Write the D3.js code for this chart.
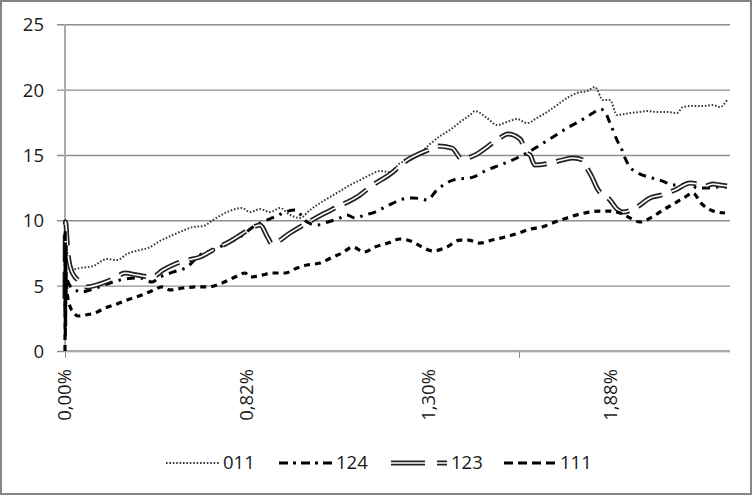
<!DOCTYPE html>
<html>
<head>
<meta charset="utf-8">
<script src="https://cdn.jsdelivr.net/npm/d3@7/dist/d3.min.js"></script>
<style>
  html, body { margin: 0; padding: 0; background: #fff; }
  svg { display: block; }
  text { font-family: "Open Sans", "Liberation Sans", sans-serif; fill: #1a1a1a; }
</style>
</head>
<body>
<svg id="chart" width="753" height="496"></svg>
<script>
// ---- data (category index along the x axis, value) ----
const categoryCount = 666;
const xTickIndex = [0, 182, 364, 546];
const xTickLabels = ["0,00%", "0,82%", "1,30%", "1,88%"];
const xMarkIndex = [0, 454];
const yTicks = [0, 5, 10, 15, 20, 25];
const seriesNames = ["011", "124", "123", "111"];

const idx011 = [0,0.5,1,2,3,5,8,15,28,42,52,62,75,83,95,108,122,128,138,148,162,177,185,195,205,215,225,235,245,255,265,275,285,295,305,315,325,335,345,355,365,375,385,395,405,410,422,432,442,452,462,472,482,492,502,512,522,530,538,545,552,565,575,582,592,602,612,618,628,638,648,655,662];
const val011 = [7.5,9.6,8.8,7.8,7.0,6.4,6.25,6.35,6.5,7.04,6.96,7.42,7.73,7.88,8.42,8.88,9.33,9.49,9.56,10.02,10.63,10.94,10.63,10.86,10.63,10.94,10.41,10.18,10.79,11.32,11.78,12.24,12.7,13.08,13.47,13.77,13.7,14.38,14.61,15.15,15.84,16.45,16.91,17.52,18.06,18.36,17.83,17.29,17.52,17.75,17.44,17.83,18.29,18.82,19.36,19.74,19.89,20.2,19.2,19.2,18.06,18.21,18.29,18.36,18.29,18.29,18.21,18.67,18.75,18.75,18.82,18.67,19.2];

const idx124 = [0,0.2,0.4,0.6,0.8,1,2,3,5,8,12,15,25,45,55,75,87,95,108,122,135,148,165,175,188,207,230,242,252,263,275,282,290,300,310,318,328,338,348,357,362,372,388,408,422,435,452,462,475,488,502,515,528,535,540,545,552,557,560,565,573,587,600,607,615,625,632,642,652,662];
const val124 = [3.0,8.8,2.5,7.5,4.0,5.2,5.6,5.3,5.0,4.7,4.6,4.5,4.67,5.2,5.43,5.59,5.28,5.66,6.04,6.43,7.35,7.73,8.34,8.72,9.49,10.18,10.79,9.87,9.64,9.87,10.18,10.41,10.18,10.41,10.63,10.94,11.32,11.63,11.71,11.63,11.55,12.32,13.08,13.31,13.85,14.23,14.77,15.15,15.76,16.37,17.06,17.6,18.21,18.52,18.29,17.44,16.14,15.38,14.77,14.08,13.62,13.24,12.93,12.7,12.7,12.85,12.47,12.47,12.55,12.55];

const idx123 = [0,0.5,1,2,3,5,10,13,17,22,35,50,60,72,87,98,110,123,135,148,162,172,185,195,203,207,212,225,235,260,270,295,305,328,338,363,373,387,397,408,432,443,455,462,465,470,485,497,508,518,522,527,532,545,552,558,572,585,597,610,625,633,640,648,655,662];
const val123 = [4.0,9.9,9.7,8.5,7.5,6.5,5.66,5.43,5.13,4.9,5.13,5.59,5.97,5.81,5.66,6.2,6.66,6.96,7.19,7.73,8.26,8.72,9.33,9.64,8.65,8.19,8.34,9.03,9.49,10.56,10.94,11.94,12.55,13.7,14.38,15.38,15.68,15.53,14.69,14.92,16.14,16.6,16.22,15.15,15.0,14.23,14.38,14.61,14.77,14.61,14.0,13.31,12.47,11.55,10.86,10.63,11.02,11.71,11.94,12.32,12.85,12.78,12.62,12.78,12.7,12.62];

const idx111 = [0,0.15,0.3,0.45,0.6,0.75,1,2,3,5,8,13,20,30,40,52,65,77,89,97,105,118,130,143,157,170,180,185,197,207,220,232,242,255,266,277,288,299,310,323,335,348,357,368,382,395,403,415,427,440,454,465,477,490,502,515,525,535,545,555,565,575,587,598,610,620,628,636,648,660];
const val111 = [0,9.2,1.0,8.0,2.0,6.5,5.6,4.6,4.0,3.4,3.0,2.68,2.75,2.91,3.29,3.6,3.98,4.28,4.67,4.9,4.67,4.82,4.9,4.9,5.2,5.66,5.97,5.66,5.81,5.97,5.97,6.35,6.58,6.73,7.12,7.5,7.96,7.57,7.96,8.26,8.57,8.34,7.96,7.65,7.96,8.49,8.49,8.26,8.49,8.72,9.03,9.33,9.49,9.87,10.18,10.48,10.63,10.71,10.71,10.56,10.18,9.87,10.25,10.79,11.32,11.78,12.09,11.32,10.71,10.56];

// ---- layout ----
const svg = d3.select("#chart");
const plotLeft = 65, plotRight = 730, plotTop = 24.3, plotBottom = 351;

svg.append("rect").attr("x", 1).attr("y", 1).attr("width", 750).attr("height", 493)
  .attr("fill", "#fff").attr("stroke", "#858585").attr("stroke-width", 2);

const x = d3.scaleLinear().domain([0, categoryCount - 1]).range([plotLeft, plotRight]);
const y = d3.scaleLinear().domain([0, 25]).range([plotBottom, plotTop]);

// gridlines + y labels
const yAxis = d3.axisLeft(y).tickValues(yTicks).tickSize(-(plotRight - plotLeft)).tickPadding(0).tickFormat("");
const gy = svg.append("g").attr("transform", `translate(${plotLeft},0)`).call(yAxis);
gy.select(".domain").remove();
gy.selectAll(".tick line").attr("x1", -8).attr("stroke", "#8f8f8f").attr("stroke-width", 1.4);
gy.selectAll(".tick").append("text")
  .attr("x", -21).attr("dy", "0.35em").attr("text-anchor", "end")
  .style("font-size", "18.5px")
  .text(d => d);

// axis lines
svg.append("line").attr("x1", plotLeft).attr("x2", plotLeft).attr("y1", plotTop).attr("y2", plotBottom + 1)
  .attr("stroke", "#ababab").attr("stroke-width", 2);
svg.append("line").attr("x1", plotLeft).attr("x2", plotRight).attr("y1", plotBottom).attr("y2", plotBottom)
  .attr("stroke", "#ababab").attr("stroke-width", 2);

// x axis tick marks and labels
const xAxis = d3.axisBottom(x).tickValues(xMarkIndex).tickSize(7).tickFormat("");
const gx = svg.append("g").attr("transform", `translate(0,${plotBottom})`).call(xAxis);
gx.select(".domain").remove();
gx.selectAll(".tick line").attr("stroke", "#8f8f8f").attr("stroke-width", 1);

svg.append("g").selectAll("text").data(xTickIndex).join("text")
  .attr("transform", d => `translate(${x(d)},369) rotate(-90)`)
  .attr("text-anchor", "end").attr("dy", "0.35em")
  .style("font-size", "18.5px")
  .text((d, i) => xTickLabels[i]);

// ---- lines ----
const line = d3.line().x(d => x(d[0])).y(d => y(d[1])).curve(d3.curveMonotoneX);
const zip = (a, b) => a.map((v, i) => [v, b[i]]);

const plot = svg.append("g");
// 011 dotted
plot.append("path").attr("d", line(zip(idx011, val011)))
  .attr("fill", "none").attr("stroke", "#3a3a3a").attr("stroke-width", 2)
  .attr("stroke-dasharray", "1.6,1.8");
// 124 dash-dot
plot.append("path").attr("d", line(zip(idx124, val124)))
  .attr("fill", "none").attr("stroke", "#000").attr("stroke-width", 3)
  .attr("stroke-dasharray", "8,6,2.5,6");
// 123 double long-dash
const d123 = line(zip(idx123, val123));
plot.append("path").attr("d", d123)
  .attr("fill", "none").attr("stroke", "#222").attr("stroke-width", 5)
  .attr("stroke-dasharray", "27,10");
plot.append("path").attr("d", d123)
  .attr("fill", "none").attr("stroke", "#fff").attr("stroke-width", 1.6)
  .attr("stroke-dasharray", "27,10");
// 111 dashed
plot.append("path").attr("d", line(zip(idx111, val111)))
  .attr("fill", "none").attr("stroke", "#000").attr("stroke-width", 3.2)
  .attr("stroke-dasharray", "6,5");

// ---- legend ----
const ly = 463;
const lg = svg.append("g");
const legendItems = [
  {name: seriesNames[0], x0: 166, x1: 219, tx: 223},
  {name: seriesNames[1], x0: 279, x1: 332, tx: 336},
  {name: seriesNames[2], x0: 391, x1: 447, tx: 451},
  {name: seriesNames[3], x0: 504, x1: 555, tx: 560}
];
function seg(it) { return lg.append("line").attr("x1", it.x0).attr("x2", it.x1).attr("y1", ly).attr("y2", ly).attr("fill", "none"); }
seg(legendItems[0]).attr("stroke", "#3a3a3a").attr("stroke-width", 2).attr("stroke-dasharray", "1.6,1.8");
seg(legendItems[1]).attr("stroke", "#000").attr("stroke-width", 3).attr("stroke-dasharray", "9,5,3,5");
seg(legendItems[2]).attr("stroke", "#222").attr("stroke-width", 5).attr("stroke-dasharray", "34,12");
seg(legendItems[2]).attr("stroke", "#fff").attr("stroke-width", 1.6).attr("stroke-dasharray", "34,12");
seg(legendItems[3]).attr("stroke", "#000").attr("stroke-width", 3.2).attr("stroke-dasharray", "9,5");
lg.selectAll("text").data(legendItems).join("text")
  .attr("x", d => d.tx).attr("y", ly).attr("dy", "0.35em")
  .style("font-size", "18.5px")
  .text(d => d.name);
</script>
</body>
</html>
